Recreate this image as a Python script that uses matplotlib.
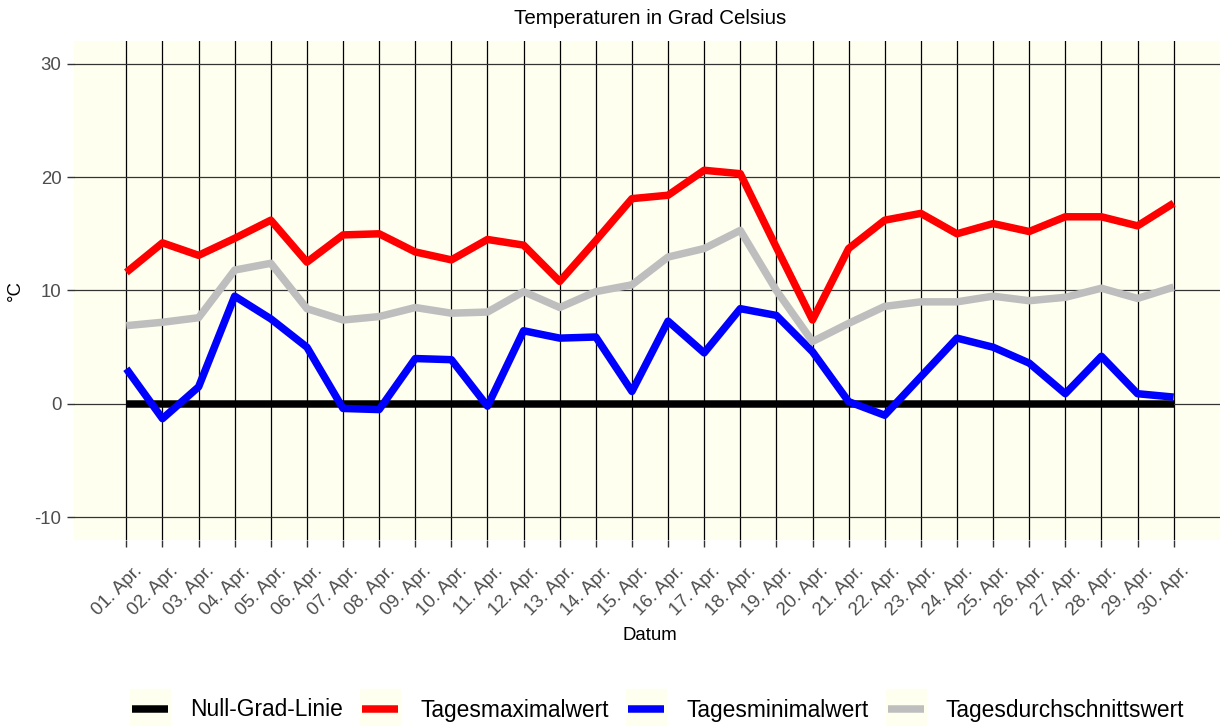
import numpy as np
import matplotlib.pyplot as plt
import matplotlib.transforms as mtransforms
from matplotlib.lines import Line2D
from matplotlib.legend_handler import HandlerTuple

plt.rcParams['font.family'] = ['Liberation Sans', 'DejaVu Sans']
plt.rcParams['axes.unicode_minus'] = False

# Tageswerte April
tage = np.arange(1, 31)
datum = [f'{t:02d}. Apr.' for t in tage]
t_max = [11.6, 14.2, 13.1, 14.6, 16.2, 12.5, 14.9, 15.0, 13.4, 12.7,
         14.5, 14.0, 10.8, 14.4, 18.1, 18.4, 20.6, 20.3, 13.8, 7.4,
         13.7, 16.2, 16.8, 15.0, 15.9, 15.2, 16.5, 16.5, 15.7, 17.7]
t_min = [3.1, -1.3, 1.5, 9.5, 7.5, 5.0, -0.4, -0.5, 4.0, 3.9,
         -0.2, 6.45, 5.8, 5.9, 1.1, 7.3, 4.5, 8.4, 7.8, 4.6,
         0.2, -1.0, 2.4, 5.8, 5.0, 3.6, 0.9, 4.2, 0.9, 0.6]
t_mittel = [6.9, 7.2, 7.6, 11.8, 12.4, 8.4, 7.4, 7.7, 8.5, 8.0,
            8.1, 9.9, 8.5, 9.9, 10.5, 12.95, 13.7, 15.3, 10.0, 5.5,
            7.1, 8.6, 9.0, 9.0, 9.5, 9.1, 9.4, 10.2, 9.3, 10.3]
null_linie = [0] * len(tage)

namen = ['Null-Grad-Linie', 'Tagesmaximalwert', 'Tagesminimalwert', 'Tagesdurchschnittswert']
farben = ['black', '#FF0000', '#0000FF', '#BEBEBE']
bg = '#FFFFF0'
lw = 5.4

fig = plt.figure(figsize=(12.2, 7.26), dpi=100)
ax = fig.add_axes([74 / 1220, 1 - 540 / 726, (1226 - 74) / 1220, (540 - 41) / 726])
ax.set_facecolor(bg)

for werte, farbe in zip([null_linie, t_max, t_min, t_mittel], farben):
    ax.plot(tage, werte, color=farbe, lw=lw, solid_capstyle='butt', solid_joinstyle='round')

ax.set_xlim(1 - 1.45, 30 + 1.45)
ax.set_ylim(-12, 32)
ax.set_xticks(tage)
ax.set_xticklabels(datum, rotation=45, ha='right', rotation_mode='anchor')
ax.set_yticks([-10, 0, 10, 20, 30])
ax.grid(axis='x', color='black', lw=0.9)
ax.grid(axis='y', color='#333333', lw=0.9)
ax.set_axisbelow(True)
for s in ax.spines.values():
    s.set_visible(False)
ax.tick_params(length=5, width=1, color='#333333', labelcolor='#4D4D4D', labelsize=13.4)
ax.tick_params(axis='x', pad=11)
ax.tick_params(axis='y', pad=4)

# Datumsbeschriftung etwas nach rechts verschieben
versatz = mtransforms.ScaledTranslation(7 / 100, 0, fig.dpi_scale_trans)
for lbl in ax.get_xticklabels():
    lbl.set_transform(lbl.get_transform() + versatz)

ax.set_title('Temperaturen in Grad Celsius', fontsize=14.8, pad=12)
ax.set_xlabel('Datum', fontsize=13.4, labelpad=6)
ax.set_ylabel('°C', fontsize=13.4, labelpad=8)

handles = [(Line2D([], [], marker='s', ms=29, color=bg, ls='none'),
            Line2D([], [], color=f, lw=lw, solid_capstyle='butt')) for f in farben]
fig.legend(handles, namen, handler_map={tuple: HandlerTuple(ndivide=1)},
           loc='center', bbox_to_anchor=(658 / 1220, 1 - 710 / 726), ncol=4,
           frameon=False, fontsize=16.4, handlelength=1.6, handletextpad=0.95,
           columnspacing=0.85)

fig.savefig('out.png', dpi=100)
